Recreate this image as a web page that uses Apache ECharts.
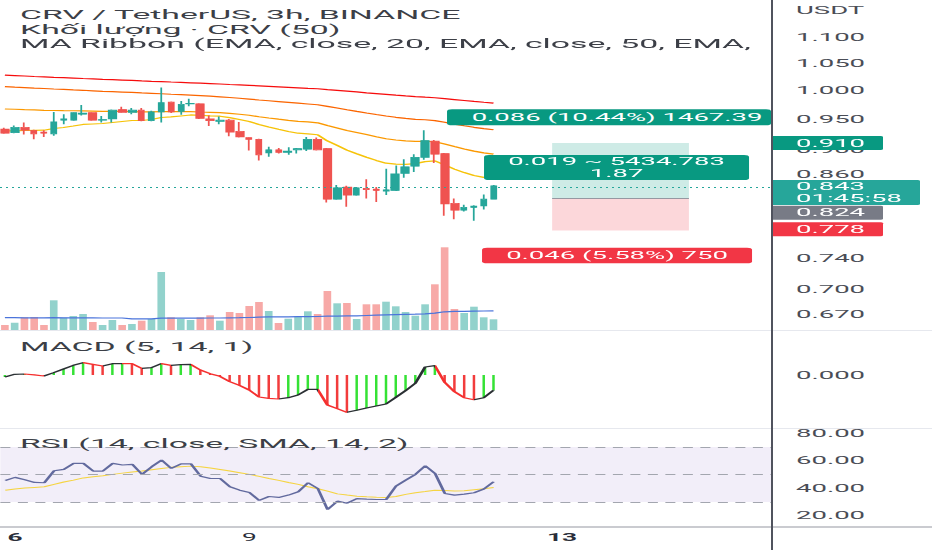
<!DOCTYPE html>
<html><head><meta charset="utf-8">
<script src="https://cdn.jsdelivr.net/npm/echarts@6/dist/echarts.min.js"></script>
<style>
html,body{margin:0;padding:0;background:#fff;overflow:hidden}
#wrap{width:932px;height:550px;overflow:hidden;position:relative;background:#fff}
#chart{width:372.8px;height:550px;transform:scaleX(2.5);transform-origin:0 0}
</style></head><body>
<div id="wrap"><div id="chart"></div></div>
<script>
// ---------- data ----------
const xSlots = 79;
const xTickIndex = [1, 25, 57];
const xTickText = ['6', '9', '13'];
const xTickBold = [true, false, true];

const open  = [0.933,0.927,0.936,0.931,0.928,0.925,0.948,0.948,0.958,0.961,0.948,0.950,0.966,0.961,0.965,0.947,0.962,0.979,0.963,0.976,0.976,0.950,0.946,0.948,0.929,0.919,0.916,0.894,0.899,0.895,0.899,0.900,0.916,0.901,0.823,0.841,0.829,0.839,0.838,0.835,0.836,0.862,0.873,0.887,0.913,0.893,0.817,0.807,0.811,0.813,0.823];
const high  = [0.935,0.939,0.944,0.932,0.931,0.962,0.958,0.962,0.974,0.962,0.955,0.966,0.971,0.969,0.969,0.964,1.005,0.980,0.981,0.985,0.977,0.956,0.954,0.950,0.945,0.920,0.917,0.904,0.902,0.903,0.902,0.920,0.919,0.902,0.844,0.843,0.841,0.853,0.841,0.869,0.874,0.884,0.892,0.931,0.915,0.894,0.824,0.815,0.814,0.830,0.844];
const low   = [0.925,0.926,0.924,0.916,0.920,0.922,0.941,0.947,0.956,0.947,0.944,0.944,0.960,0.958,0.946,0.946,0.944,0.960,0.957,0.972,0.950,0.938,0.941,0.921,0.919,0.898,0.882,0.888,0.893,0.891,0.893,0.897,0.898,0.818,0.822,0.812,0.828,0.824,0.819,0.829,0.835,0.855,0.864,0.883,0.878,0.799,0.794,0.805,0.792,0.808,0.823];
const close = [0.926,0.936,0.931,0.925,0.926,0.945,0.950,0.961,0.960,0.948,0.949,0.965,0.961,0.965,0.947,0.962,0.978,0.962,0.975,0.977,0.951,0.947,0.948,0.928,0.920,0.916,0.891,0.899,0.895,0.897,0.901,0.916,0.899,0.823,0.840,0.829,0.840,0.837,0.836,0.837,0.861,0.872,0.887,0.914,0.892,0.816,0.807,0.811,0.813,0.823,0.843];

const ema20  = [0.9298,0.9301,0.9306,0.9309,0.9311,0.9339,0.9356,0.9381,0.9407,0.9415,0.9423,0.9440,0.9457,0.9474,0.9474,0.9491,0.9525,0.9534,0.9551,0.9568,0.9563,0.9554,0.9547,0.9522,0.9491,0.9457,0.9407,0.9365,0.9326,0.9289,0.9261,0.9251,0.9235,0.9133,0.9060,0.8984,0.8926,0.8872,0.8821,0.8777,0.8762,0.8759,0.8770,0.8802,0.8813,0.8751,0.8685,0.8631,0.8585,0.8557,0.8546];
const ema50  = [0.9671,0.9666,0.9660,0.9655,0.9648,0.9645,0.9641,0.9640,0.9638,0.9633,0.9628,0.9628,0.9628,0.9626,0.9621,0.9621,0.9624,0.9624,0.9626,0.9626,0.9619,0.9614,0.9609,0.9595,0.9580,0.9563,0.9537,0.9516,0.9496,0.9477,0.9460,0.9450,0.9435,0.9388,0.9349,0.9307,0.9273,0.9238,0.9203,0.9170,0.9149,0.9134,0.9126,0.9128,0.9120,0.9082,0.9042,0.9004,0.8969,0.8940,0.8920];
const ema100 = [1.0065,1.0056,1.0048,1.0039,1.0032,1.0023,1.0016,1.0007,1.0000,0.9991,0.9982,0.9975,0.9968,0.9961,0.9952,0.9945,0.9938,0.9929,0.9922,0.9915,0.9906,0.9895,0.9884,0.9872,0.9858,0.9844,0.9828,0.9814,0.9800,0.9786,0.9772,0.9758,0.9744,0.9716,0.9687,0.9657,0.9629,0.9602,0.9576,0.9551,0.9528,0.9510,0.9494,0.9486,0.9472,0.9444,0.9413,0.9385,0.9359,0.9338,0.9319];
const ema200 = [1.0274,1.0267,1.0259,1.0250,1.0243,1.0235,1.0228,1.0221,1.0213,1.0206,1.0198,1.0191,1.0184,1.0177,1.0169,1.0162,1.0157,1.0149,1.0142,1.0135,1.0128,1.0121,1.0113,1.0104,1.0097,1.0088,1.0079,1.0070,1.0061,1.0052,1.0043,1.0034,1.0027,1.0012,0.9998,0.9984,0.9970,0.9955,0.9941,0.9927,0.9913,0.9900,0.9888,0.9877,0.9867,0.9851,0.9835,0.9819,0.9803,0.9788,0.9774];

const volume   = [50,73,127,130,50,297,123,140,160,80,50,100,50,60,93,110,580,127,110,100,127,147,93,180,170,240,280,190,70,113,137,187,160,390,267,270,110,257,257,283,237,180,143,257,457,827,210,170,233,127,107];
const volumeMA = [123,123,122,122,122,123,122,122,122,121,120,120,120,111,111,112,118,118,118,119,119,120,120,122,123,125,128,131,131,132,133,134,135,138,139,141,141,145,148,151,154,156,158,162,169,182,186,187,189,190,191];

const macd = [-0.0012,0.0004,0.0006,0.0001,-0.0006,0.0014,0.0036,0.0058,0.0074,0.0064,0.0054,0.0068,0.0069,0.0068,0.0040,0.0044,0.0068,0.0058,0.0062,0.0064,0.0030,0.0008,-0.0008,-0.0040,-0.0062,-0.0090,-0.0132,-0.0140,-0.0144,-0.0136,-0.0120,-0.0086,-0.0086,-0.0180,-0.0202,-0.0224,-0.0212,-0.0198,-0.0186,-0.0174,-0.0134,-0.0094,-0.0050,0.0048,0.0056,-0.0044,-0.0100,-0.0136,-0.0148,-0.0136,-0.0092];

const rsi    = [45.7,47.9,46.2,44.2,44.0,52.7,53.7,58.1,58.1,52.5,52.5,58.1,56.9,57.4,50.1,55.7,60.5,54.4,57.8,57.8,48.8,47.1,47.1,41.1,38.6,36.9,31.1,34.0,33.3,35.0,37.4,44.0,39.8,24.5,30.6,29.1,32.5,32.1,31.8,31.8,41.5,45.9,50.1,56.4,50.8,36.2,35.0,35.7,36.7,39.4,44.7];
const rsiSMA = [38.6,39.4,40.1,40.6,41.1,42.8,44.5,45.9,47.5,48.4,49.1,50.1,51.0,51.8,52.5,53.5,54.4,55.2,55.7,56.1,55.7,54.7,53.7,52.5,51.3,50.1,48.6,47.1,45.7,44.2,42.8,41.1,39.6,37.9,35.9,35.0,34.2,33.8,33.5,33.3,34.0,35.5,36.7,37.6,38.6,38.4,37.9,38.1,38.9,39.6,40.6];

const priceTicks = [1.10, 1.05, 1.00, 0.95, 0.90, 0.86, 0.74, 0.70, 0.67];
const macdTicks = [0];
const rsiTicks = [20, 40, 60, 80];
const rsiBands = [70, 50, 30];

const lastPrice = 0.843, countdown = '01:45:58';
const target = 0.910, entry = 0.824, stop = 0.778;
const posStart = 56, posEnd = 70, posMid = 63;
const posTargetText = '0.086 (10.44%) 1467.39', posTargetAt = 0.953;
const posMidText = '0.019 ~ 5434.783\n1.87', posMidAt = 0.871;
const posStopText = '0.046 (5.58%) 750', posStopAt = 0.744;

const legendLines = ['CRV / TetherUS, 3h, BINANCE', 'Khối lượng · CRV (50)', 'MA Ribbon (EMA, close, 20, EMA, close, 50, EMA,'];
const macdTitle = 'MACD (5, 14, 1)';
const rsiTitle = 'RSI (14, close, SMA, 14, 2)';
const unitText = 'USDT';

// ---------- layout (inner coordinates; page is stretched x2.5) ----------
const W = 372.8, AXIS_X = 308.8, RIGHT = W - AXIS_X;
const FONT = 'Roboto';
const UP = '#26a69a', DOWN = '#ef5350';
const labelColor = '#4a4d56';

const categories = Array.from({length: xSlots}, (_, i) => String(i));
const candleData = open.map((o, i) => [o, close[i], low[i], high[i]]);
const volData = volume.map((v, i) => ({value: v, itemStyle: {color: close[i] >= open[i] ? 'rgba(38,166,154,0.5)' : 'rgba(239,83,80,0.5)'}}));
const histData = macd.map((v, i) => ({value: v, itemStyle: {color: (i > 0 && v < macd[i-1]) ? '#f23c3c' : '#35e235'}}));

// red pieces of the MACD line where it falls
const macdPieces = [];
let runStart = -1;
for (let i = 1; i <= macd.length; i++) {
  const falling = i < macd.length && macd[i] < macd[i-1];
  if (falling && runStart < 0) runStart = i - 1;
  if (!falling && runStart >= 0) { macdPieces.push({gte: runStart, lte: i - 1, color: '#f5302f'}); runStart = -1; }
}

const titleStyle = {fontFamily: FONT, fontSize: 13.5, fontWeight: 'normal', color: '#3c3f47', lineHeight: 14.5};
const tagLabel = (text, bg, extra) => Object.assign({
  show: true, position: 'end', distance: 0, formatter: text, color: '#ffffff',
  backgroundColor: bg, fontFamily: FONT, fontSize: 11, lineHeight: 11, opacity: 1,
  padding: [1.5, 7.6, 1.5, 9.6], width: 27.2, align: 'left', borderRadius: [0, 1, 1, 0]
}, extra || {});
const noLine = {color: 'rgba(0,0,0,0)', width: 0.01, type: 'solid'};
const boxLabel = (text, bg, w, lh, pad, dx) => ({
  show: true, position: 'inside', formatter: text, color: '#ffffff', backgroundColor: bg,
  fontFamily: FONT, fontSize: 11, lineHeight: lh, width: w, align: 'center', padding: pad,
  borderRadius: 2, offset: [dx, 0]
});

const chart = echarts.init(document.getElementById('chart'), null, {renderer: 'svg', width: W, height: 550});

const option = {
  animation: false,
  backgroundColor: '#ffffff',
  textStyle: {fontFamily: FONT},
  title: [
    {text: legendLines[0], left: 8, top: 7.25, padding: 0, textStyle: titleStyle},
    {text: legendLines[1], left: 8, top: 21.75, padding: 0, textStyle: titleStyle},
    {text: legendLines[2], left: 8, top: 36.25, padding: 0, textStyle: titleStyle},
    {text: macdTitle, left: 8, top: 338.75, padding: 0, textStyle: titleStyle},
    {text: rsiTitle, left: 8, top: 436.25, padding: 0, textStyle: titleStyle},
    {text: unitText, left: AXIS_X + 9.6, top: 4, padding: 0, textStyle: {fontFamily: FONT, fontSize: 11, fontWeight: 'normal', color: labelColor, lineHeight: 12}}
  ],
  grid: [
    {left: 0, right: RIGHT, top: 0, height: 330},
    {left: 0, right: RIGHT, top: 165, height: 165},
    {left: 0, right: RIGHT, top: 331, height: 97},
    {left: 0, right: RIGHT, top: 428, height: 99}
  ],
  xAxis: [0, 1, 2, 3].map(g => ({
    type: 'category', gridIndex: g, data: categories, boundaryGap: true, show: g === 3,
    axisLine: {show: false}, axisTick: {show: false}, splitLine: {show: false},
    axisLabel: g === 3 ? {
      show: true, margin: 5,
      interval: (idx) => xTickIndex.indexOf(idx) >= 0,
      formatter: (val, idx) => {
        const k = xTickIndex.indexOf(idx);
        if (k < 0) return '';
        return (xTickBold[k] ? '{b|' : '{n|') + xTickText[k] + '}';
      },
      rich: {
        b: {fontFamily: FONT, fontSize: 10.5, fontWeight: 'bold', color: '#2a2e39'},
        n: {fontFamily: FONT, fontSize: 10.5, color: '#2a2e39'}
      }
    } : {show: false}
  })),
  yAxis: [
    {type: 'log', logBase: 10, gridIndex: 0, position: 'right', min: 0.65127, max: 1.17527,
     axisLine: {show: false}, axisTick: {show: false}, splitLine: {show: false},
     axisLabel: {customValues: priceTicks, formatter: v => Number(v).toFixed(3), margin: 9.6,
       color: labelColor, fontFamily: FONT, fontSize: 11}},
    {type: 'value', gridIndex: 1, min: 0, max: 1650, show: false, splitLine: {show: false}},
    {type: 'value', gridIndex: 2, position: 'right', min: -0.0318, max: 0.0264,
     axisLine: {show: false}, axisTick: {show: false}, splitLine: {show: false},
     axisLabel: {customValues: macdTicks, formatter: v => Math.abs(v).toFixed(3), margin: 9.6,
       color: labelColor, fontFamily: FONT, fontSize: 11}},
    {type: 'value', gridIndex: 3, position: 'right', min: 11.77, max: 83.86,
     axisLine: {show: false}, axisTick: {show: false}, splitLine: {show: false},
     axisLabel: {customValues: rsiTicks, formatter: v => Number(v).toFixed(2), margin: 9.6,
       color: labelColor, fontFamily: FONT, fontSize: 11}}
  ],
  visualMap: [{
    type: 'piecewise', show: false, dimension: 0, seriesIndex: 8,
    pieces: macdPieces, outOfRange: {color: '#2b3034'}
  }],
  series: [
    {
      name: 'CRV', type: 'candlestick', xAxisIndex: 0, yAxisIndex: 0, data: candleData,
      barWidth: '80%', z: 3,
      itemStyle: {color: UP, color0: DOWN, borderColor: UP, borderColor0: DOWN, borderWidth: 0.7},
      markArea: {
        silent: true,
        data: [
          [{xAxis: posStart, yAxis: target, itemStyle: {color: 'rgba(8,153,129,0.2)'}}, {xAxis: posEnd, yAxis: entry}],
          [{xAxis: posStart, yAxis: entry, itemStyle: {color: 'rgba(242,54,69,0.2)'}}, {xAxis: posEnd, yAxis: stop}]
        ]
      },
      markLine: {
        silent: true, symbol: ['none', 'none'], animation: false,
        data: [
          {yAxis: lastPrice, lineStyle: {color: UP, type: [0.8, 1.6], width: 1},
           label: tagLabel(lastPrice.toFixed(3) + '\n' + countdown, UP, {lineHeight: 11.5, padding: [1, 7.2, 1, 9.6], width: 42.4, offset: [0, 4.7]})},
          {yAxis: target, lineStyle: noLine, label: tagLabel(target.toFixed(3), '#089981')},
          {yAxis: entry, lineStyle: noLine, label: tagLabel(entry.toFixed(3), '#787b86', {offset: [0, 11.5]})},
          {yAxis: stop, lineStyle: noLine, label: tagLabel(stop.toFixed(3), '#f23645')},
          [{coord: [posStart, entry], lineStyle: {color: '#9598a1', width: 1, type: 'solid'}, label: {show: false}},
           {coord: [posEnd, entry]}]
        ]
      },
      markPoint: {
        silent: true, symbol: 'rect', symbolSize: 0.01, itemStyle: {color: 'rgba(0,0,0,0)'},
        data: [
          {coord: [posMid, posTargetAt], label: boxLabel(posTargetText, '#089981', 120, 12, [2, 1.6, 2, 8], -4.6)},
          {coord: [posMid, posMidAt], label: boxLabel(posMidText, '#089981', 101.6, 11.5, [1, 2.2, 1, 2.2], -1.6)},
          {coord: [posMid, posStopAt], label: boxLabel(posStopText, '#f23645', 104, 12, [1.75, 2, 1.75, 2], -1.4)}
        ]
      }
    },
    {name: 'EMA20', type: 'line', xAxisIndex: 0, yAxisIndex: 0, data: ema20, showSymbol: false, z: 2, lineStyle: {color: '#f6c309', width: 1.2}},
    {name: 'EMA50', type: 'line', xAxisIndex: 0, yAxisIndex: 0, data: ema50, showSymbol: false, z: 2, lineStyle: {color: '#fb9800', width: 1.2}},
    {name: 'EMA100', type: 'line', xAxisIndex: 0, yAxisIndex: 0, data: ema100, showSymbol: false, z: 2, lineStyle: {color: '#fb6500', width: 1.2}},
    {name: 'EMA200', type: 'line', xAxisIndex: 0, yAxisIndex: 0, data: ema200, showSymbol: false, z: 2, lineStyle: {color: '#f60c0c', width: 1.2}},
    {name: 'Volume', type: 'bar', xAxisIndex: 1, yAxisIndex: 1, data: volData, barWidth: '78%', z: 1},
    {name: 'Volume MA', type: 'line', xAxisIndex: 1, yAxisIndex: 1, data: volumeMA, showSymbol: false, z: 2, lineStyle: {color: '#4b74db', width: 1.2}},
    {name: 'Histogram', type: 'bar', xAxisIndex: 2, yAxisIndex: 2, data: histData, barWidth: 0.45},
    {name: 'MACD', type: 'line', xAxisIndex: 2, yAxisIndex: 2, data: macd, showSymbol: false, z: 3, lineStyle: {width: 1.2}},
    {
      name: 'RSI', type: 'line', xAxisIndex: 3, yAxisIndex: 3, data: rsi, showSymbol: false, z: 3,
      lineStyle: {color: '#626a9e', width: 1.2},
      markArea: {silent: true, itemStyle: {color: 'rgba(126,87,194,0.1)'}, data: [[{yAxis: rsiBands[0]}, {yAxis: rsiBands[2]}]]},
      markLine: {silent: true, symbol: ['none', 'none'], label: {show: false},
        lineStyle: {color: '#a3a6af', type: [4, 3], width: 1},
        data: rsiBands.map(v => ({yAxis: v}))}
    },
    {name: 'RSI SMA', type: 'line', xAxisIndex: 3, yAxisIndex: 3, data: rsiSMA, showSymbol: false, z: 2, lineStyle: {color: '#f5d442', width: 1}}
  ],
  graphic: [
    {type: 'line', z: 50, shape: {x1: 0, y1: 330.5, x2: W, y2: 330.5}, style: {stroke: '#e6e8ee', lineWidth: 1}},
    {type: 'line', z: 50, shape: {x1: 0, y1: 428.5, x2: W, y2: 428.5}, style: {stroke: '#e6e8ee', lineWidth: 1}},
    {type: 'line', z: 50, shape: {x1: 0, y1: 527, x2: W, y2: 527}, style: {stroke: '#9598a1', lineWidth: 1}},
    {type: 'line', z: 50, shape: {x1: AXIS_X, y1: 0, x2: AXIS_X, y2: 550}, style: {stroke: '#50535e', lineWidth: 0.8}}
  ]
};
chart.setOption(option);
</script>
</body></html>
